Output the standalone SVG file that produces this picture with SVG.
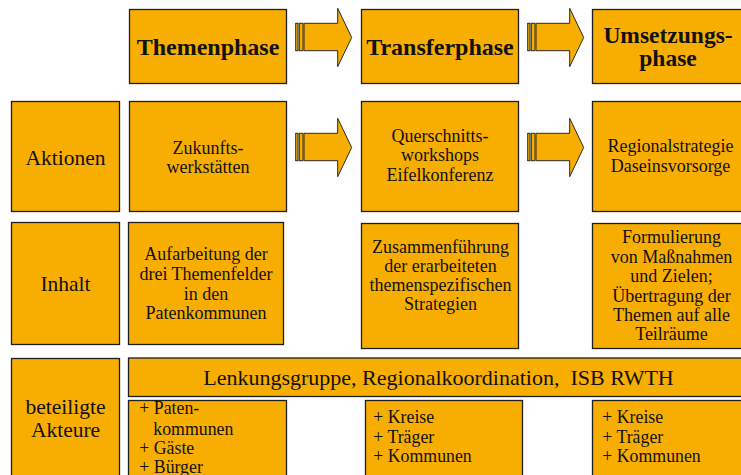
<svg xmlns="http://www.w3.org/2000/svg" width="741" height="475" viewBox="0 0 741 475">
<defs>
<style>
.box{fill:#F8AE00;stroke:#1e1e1e;stroke-width:1.3}
.arr{fill:#F8AE00;stroke:#2a2a2a;stroke-width:1}
text{font-family:"Liberation Serif","Times New Roman",serif;fill:#111;text-anchor:middle}
.h{font-size:24px;font-weight:bold}
.l{font-size:21.5px}
.b{font-size:18px}
.lst{font-size:17.8px;text-anchor:start}
</style>
<g id="arrow">
<rect class="arr" x="295.7" y="23.3" width="2.3" height="27.4"/>
<rect class="arr" x="299.3" y="23.3" width="3.7" height="27.4"/>
<path class="arr" d="M304,23.3 H337.7 V8.3 L351.7,37.5 L337.7,66.7 V50.7 H304 Z"/>
</g>
</defs>
<rect width="741" height="475" fill="#fff"/>

<g id="connectors">
<use href="#arrow"/>
<use href="#arrow" x="232"/>
<use href="#arrow" y="110"/>
<use href="#arrow" x="232" y="110"/>
</g>

<g id="themenphase">
<rect class="box" x="129.5" y="9.5" width="157" height="74"/>
<text class="h" x="208" y="55">Themenphase</text>
</g>
<g id="transferphase">
<rect class="box" x="361.5" y="9.5" width="157" height="74"/>
<text class="h" x="440" y="55">Transferphase</text>
</g>
<g id="umsetzungsphase">
<rect class="box" x="592.5" y="9.5" width="152" height="74"/>
<text class="h" x="668" y="42.5" style="font-size:23.5px">Umsetzungs-</text>
<text class="h" x="668" y="66" style="font-size:23.5px">phase</text>
</g>

<g id="aktionen">
<rect class="box" x="11.5" y="101.5" width="108" height="110"/>
<text class="l" x="65.5" y="164.5">Aktionen</text>
</g>
<g id="zukunftswerkstaetten">
<rect class="box" x="129.5" y="101.5" width="157" height="110"/>
<text class="b" x="208" y="154">Zukunfts-</text>
<text class="b" x="208" y="172.5">werkstätten</text>
</g>
<g id="querschnittsworkshops">
<rect class="box" x="361.5" y="101.5" width="157" height="110"/>
<text class="b" x="440" y="141.5">Querschnitts-</text>
<text class="b" x="440" y="161">workshops</text>
<text class="b" x="440" y="180.5">Eifelkonferenz</text>
</g>
<g id="regionalstrategie">
<rect class="box" x="592.5" y="101.5" width="152" height="110"/>
<text class="b" x="670.5" y="152">Regionalstrategie</text>
<text class="b" x="670.5" y="171.5">Daseinsvorsorge</text>
</g>

<g id="inhalt">
<rect class="box" x="11.5" y="222.5" width="108" height="122"/>
<text class="l" x="65.5" y="291">Inhalt</text>
</g>
<g id="aufarbeitung">
<rect class="box" x="128.5" y="222.5" width="155" height="122"/>
<text class="b" x="206" y="260">Aufarbeitung der</text>
<text class="b" x="206" y="280">drei Themenfelder</text>
<text class="b" x="206" y="299.5">in den</text>
<text class="b" x="206" y="319">Patenkommunen</text>
</g>
<g id="zusammenfuehrung">
<rect class="box" x="361.5" y="223.5" width="157" height="125"/>
<text class="b" x="440.5" y="252.5">Zusammenführung</text>
<text class="b" x="440.5" y="272">der erarbeiteten</text>
<text class="b" x="440.5" y="291">themenspezifischen</text>
<text class="b" x="440.5" y="309.5">Strategien</text>
</g>
<g id="formulierung">
<rect class="box" x="592.5" y="223.5" width="152" height="125"/>
<text class="b" x="671.5" y="243">Formulierung</text>
<text class="b" x="671.5" y="262.5">von Maßnahmen</text>
<text class="b" x="671.5" y="282">und Zielen;</text>
<text class="b" x="671.5" y="301.5">Übertragung der</text>
<text class="b" x="671.5" y="321">Themen auf alle</text>
<text class="b" x="671.5" y="340">Teilräume</text>
</g>

<g id="beteiligte-akteure">
<rect class="box" x="11.5" y="358.5" width="108" height="130"/>
<text class="l" x="65.5" y="413.5">beteiligte</text>
<text class="l" x="65.5" y="437">Akteure</text>
</g>
<g id="lenkungsgruppe">
<rect class="box" x="128.5" y="358" width="620" height="38.5"/>
<text class="l" x="438.5" y="385" style="font-size:22px;white-space:pre" xml:space="preserve">Lenkungsgruppe, Regionalkoordination,  ISB RWTH</text>
</g>
<g id="akteure-themenphase">
<rect class="box" x="128.5" y="400.5" width="158" height="90"/>
<text class="lst" x="139.3" y="414">+ Paten-</text>
<text class="lst" x="153.3" y="435">kommunen</text>
<text class="lst" x="139.3" y="454.3">+ Gäste</text>
<text class="lst" x="139.3" y="472.5">+ Bürger</text>
</g>
<g id="akteure-transferphase">
<rect class="box" x="365.5" y="400.5" width="157" height="90"/>
<text class="lst" x="373.3" y="423.3">+ Kreise</text>
<text class="lst" x="373.3" y="443">+ Träger</text>
<text class="lst" x="373.3" y="462.3">+ Kommunen</text>
</g>
<g id="akteure-umsetzungsphase">
<rect class="box" x="592.5" y="400.5" width="152" height="90"/>
<text class="lst" x="602.3" y="423.3">+ Kreise</text>
<text class="lst" x="602.3" y="443">+ Träger</text>
<text class="lst" x="602.3" y="462.3">+ Kommunen</text>
</g>
</svg>
